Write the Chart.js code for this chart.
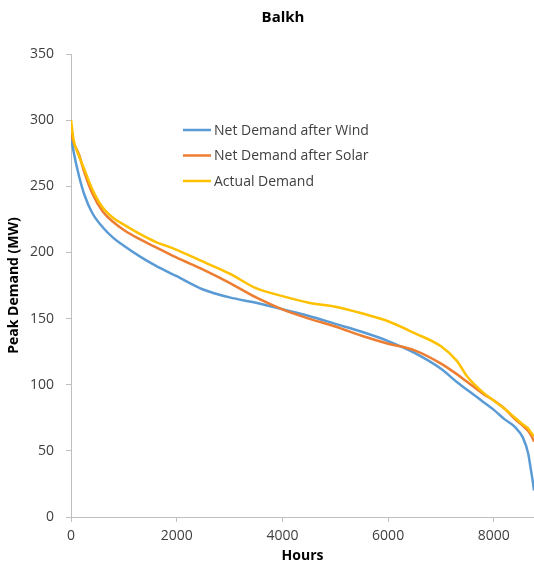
<!DOCTYPE html>
<html>
<head>
<meta charset="utf-8">
<script src="https://cdn.jsdelivr.net/npm/chart.js@4.4.1/dist/chart.umd.min.js"></script>
<style>
  html, body { margin: 0; padding: 0; background: #ffffff; }
  #wrap { width: 534px; height: 573px; position: relative; }
</style>
</head>
<body>
<div id="wrap"><canvas id="chart"></canvas></div>
<script>
// Load duration curves for Balkh: hours of the year sorted by demand
const chartTitle = 'Balkh';
const xTitle = 'Hours';
const yTitle = 'Peak Demand (MW)';
const seriesNames = ['Net Demand after Wind', 'Net Demand after Solar', 'Actual Demand'];
const seriesColors = ['#5B9BD5', '#ED7D31', '#FFC000'];

const hours = [0, 50, 150, 250, 400, 600, 800, 1000, 1300, 1600, 2000, 2500, 3000, 3500,
  4000, 4500, 5000, 5500, 6000, 6500, 7000, 7300, 7500, 7800, 8000, 8200, 8400, 8550,
  8650, 8700, 8740, 8760];

const netAfterWind = [287, 276, 258, 244, 230, 219, 211, 205, 197, 190, 182, 172, 166, 162,
  157, 152, 146, 140, 133, 124, 112, 102, 96, 87, 81, 74, 68, 60,
  48, 36, 26, 20];

const netAfterSolar = [290, 283, 274, 261, 245, 231, 223, 217, 210, 204, 196, 187, 177, 166,
  157, 150, 144, 137, 131, 126, 116, 108, 102, 93, 88, 82, 74, 69,
  65, 62, 59, 57];

const actualDemand = [300, 285, 273, 263, 248, 234, 226, 221, 214, 208, 202, 193, 184, 173,
  167, 162, 159, 154, 148, 139, 129, 118, 106, 94, 88, 82, 75, 70,
  67, 64, 62, 61];

const yTicks = [0, 50, 100, 150, 200, 250, 300, 350];
const xTicks = [0, 2000, 4000, 6000, 8000];

const FONT = "'Open Sans', 'Liberation Sans', sans-serif";
const TEXT = '#404040';
const AXIS = '#BFBFBF';

function toPoints(values) {
  return values.map((v, i) => ({ x: hours[i], y: v }));
}

const seriesValues = [netAfterWind, netAfterSolar, actualDemand];

// Title and in-plot legend drawn on the canvas
const decorations = {
  id: 'decorations',
  afterDraw(chart) {
    const ctx = chart.ctx;
    ctx.save();
    ctx.fillStyle = '#000000';
    ctx.font = "bold 15px " + FONT;
    ctx.textAlign = 'center';
    ctx.textBaseline = 'middle';
    ctx.fillText(chartTitle, 283, 18);

    ctx.font = "14px " + FONT;
    ctx.textAlign = 'left';
    chart.data.datasets.forEach((ds, i) => {
      const y = 130 + i * 25.5;
      ctx.strokeStyle = ds.borderColor;
      ctx.lineWidth = 2.5;
      ctx.beginPath();
      ctx.moveTo(183, y);
      ctx.lineTo(211, y);
      ctx.stroke();
      ctx.fillStyle = TEXT;
      ctx.fillText(ds.label, 214, y + 1);
    });
    ctx.restore();
  }
};

new Chart(document.getElementById('chart'), {
  type: 'line',
  data: {
    datasets: seriesNames.map((name, i) => ({
      label: name,
      data: toPoints(seriesValues[i]),
      borderColor: seriesColors[i],
      backgroundColor: seriesColors[i],
      borderWidth: 2.5,
      pointRadius: 0,
      cubicInterpolationMode: 'monotone',
      fill: false,
      // later series are painted over earlier ones
      order: seriesNames.length - i
    }))
  },
  options: {
    responsive: true,
    maintainAspectRatio: false,
    animation: false,
    layout: { padding: { top: 54, left: 0, right: 0, bottom: 0 } },
    plugins: {
      legend: { display: false },
      title: { display: false },
      tooltip: { enabled: false }
    },
    scales: {
      x: {
        type: 'linear',
        min: 0,
        max: 8760,
        afterFit(scale) { scale.height = 56; },
        afterBuildTicks(scale) { scale.ticks = xTicks.map(v => ({ value: v })); },
        grid: { drawOnChartArea: false, color: AXIS, tickLength: 5 },
        border: { color: AXIS, width: 1 },
        ticks: {
          color: TEXT, font: { family: FONT, size: 14 }, padding: 6, maxRotation: 0,
          callback: v => String(v)
        },
        title: {
          display: true, text: xTitle, color: '#000000',
          font: { family: FONT, size: 14, weight: 'bold' },
          padding: { top: 0, bottom: 9 }
        }
      },
      y: {
        min: 0,
        max: 350,
        afterFit(scale) { scale.width = 71; },
        afterBuildTicks(scale) { scale.ticks = yTicks.map(v => ({ value: v })); },
        grid: { drawOnChartArea: false, color: AXIS, tickLength: 5 },
        border: { color: AXIS, width: 1 },
        ticks: {
          color: TEXT, font: { family: FONT, size: 14 }, padding: 12,
          callback: v => String(v)
        },
        title: {
          display: true, text: yTitle, color: '#000000',
          font: { family: FONT, size: 14, weight: 'bold' },
          padding: { top: 6, bottom: 0 }
        }
      }
    }
  },
  plugins: [decorations]
});
</script>
</body>
</html>
